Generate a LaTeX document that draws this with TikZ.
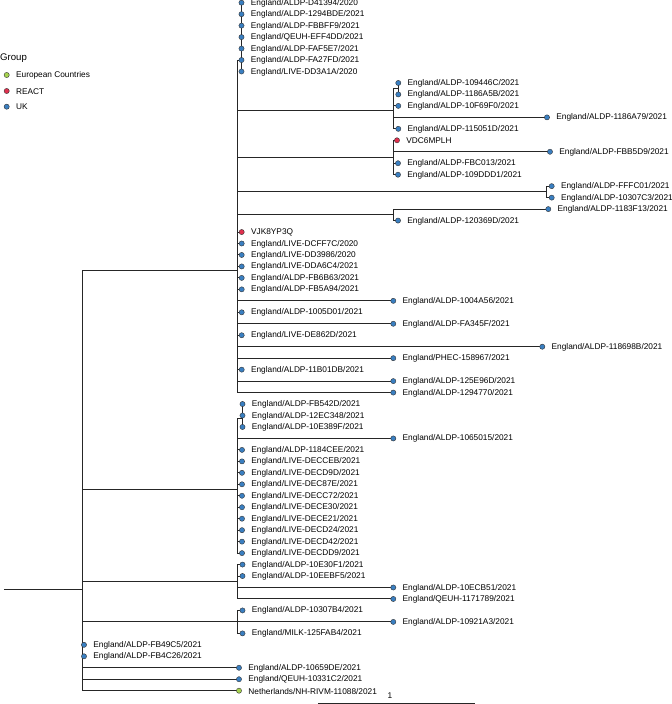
\documentclass[tikz,border=0pt]{standalone}
\usepackage{fontspec}
\setmainfont{Liberation Sans}
\usetikzlibrary{backgrounds}
\definecolor{ukblue}{HTML}{3A7FC1}
\definecolor{reactred}{HTML}{E0304E}
\definecolor{eugreen}{HTML}{A6D34F}
\begin{document}
\begin{tikzpicture}[x=1pt, y=-11.467pt,
        tip/.style={circle, draw=black!80, line width=0.4pt, inner sep=0pt, minimum size=5.2pt},
        uk/.style={tip, fill=ukblue},
        react/.style={tip, fill=reactred},
        eu/.style={tip, fill=eugreen},
        lab/.style={font=\fontsize{8.3}{10}\selectfont, inner sep=0pt, yshift=-0.4pt},
        label distance=6.4pt,
        branch/.style={line width=0.95pt, black!85}]

    \useasboundingbox (0,-0.2355) rectangle (672,61.16);

    % legend
    \node[font=\fontsize{9.6}{11}\selectfont, anchor=west, inner sep=0pt] (group) at (0,4.85) {Group};
    \node[eu, label distance=11.5pt, label={[lab]right:European Countries}] (keyeu) at (6.7,6.305) {};
    \node[react, label distance=11.5pt, label={[lab]right:REACT}] (keyreact) at (6.7,7.70) {};
    \node[uk, label distance=11.5pt, label={[lab]right:UK}] (keyuk) at (6.7,9.07) {};

    % internal nodes
    \coordinate (stem) at (4,51.15);
    \coordinate (root) at (82,51.15);
    \coordinate (U) at (237,23.39);
    \coordinate (T) at (241.5,5.016);
    \coordinate (C7) at (393.3,9.375);
    \coordinate (s78) at (398.3,7.5);
    \coordinate (C12) at (393.3,13.5);
    \coordinate (C16) at (546.7,16.5);
    \coordinate (C18) at (393.3,18.5);
    \coordinate (D) at (237,42.44);
    \coordinate (S35) at (242.5,36.25);
    \coordinate (C49) at (237,50.5);
    \coordinate (C53) at (237,54);

    % tips
    \node[uk, label={[lab]right:England/ALDP-D41394/2020}] (D41394) at (241.5,0) {};
    \node[uk, label={[lab]right:England/ALDP-1294BDE/2021}] (1294BDE) at (241.5,1) {};
    \node[uk, label={[lab]right:England/ALDP-FBBFF9/2021}] (FBBFF9) at (241.5,2) {};
    \node[uk, label={[lab]right:England/QEUH-EFF4DD/2021}] (EFF4DD) at (241.5,3) {};
    \node[uk, label={[lab]right:England/ALDP-FAF5E7/2021}] (FAF5E7) at (241.5,4) {};
    \node[uk, label={[lab]right:England/ALDP-FA27FD/2021}] (FA27FD) at (241.5,5) {};
    \node[uk, label={[lab]right:England/LIVE-DD3A1A/2020}] (DD3A1A) at (241.5,6) {};
    \node[uk, label={[lab]right:England/ALDP-109446C/2021}] (109446C) at (398.3,7) {};
    \node[uk, label={[lab]right:England/ALDP-1186A5B/2021}] (1186A5B) at (398.3,8) {};
    \node[uk, label={[lab]right:England/ALDP-10F69F0/2021}] (10F69F0) at (398.3,9) {};
    \node[uk, label={[lab]right:England/ALDP-1186A79/2021}] (1186A79) at (547,10) {};
    \node[uk, label={[lab]right:England/ALDP-115051D/2021}] (115051D) at (398.3,11) {};
    \node[react, label={[lab]right:VDC6MPLH}] (VDC6MPLH) at (397,12) {};
    \node[uk, label={[lab]right:England/ALDP-FBB5D9/2021}] (FBB5D9) at (550,13) {};
    \node[uk, label={[lab]right:England/ALDP-FBC013/2021}] (FBC013) at (398,14) {};
    \node[uk, label={[lab]right:England/ALDP-109DDD1/2021}] (109DDD1) at (398,15) {};
    \node[uk, label={[lab]right:England/ALDP-FFFC01/2021}] (FFFC01) at (551.7,16) {};
    \node[uk, label={[lab]right:England/ALDP-10307C3/2021}] (10307C3) at (551.7,17) {};
    \node[uk, label={[lab]right:England/ALDP-1183F13/2021}] (1183F13) at (548.3,18) {};
    \node[uk, label={[lab]right:England/ALDP-120369D/2021}] (120369D) at (398,19) {};
    \node[react, label={[lab]right:VJK8YP3Q}] (VJK8YP3Q) at (241.7,20) {};
    \node[uk, label={[lab]right:England/LIVE-DCFF7C/2020}] (DCFF7C) at (241.7,21) {};
    \node[uk, label={[lab]right:England/LIVE-DD3986/2020}] (DD3986) at (241.7,22) {};
    \node[uk, label={[lab]right:England/LIVE-DDA6C4/2021}] (DDA6C4) at (241.7,23) {};
    \node[uk, label={[lab]right:England/ALDP-FB6B63/2021}] (FB6B63) at (241.7,24) {};
    \node[uk, label={[lab]right:England/ALDP-FB5A94/2021}] (FB5A94) at (241.7,25) {};
    \node[uk, label={[lab]right:England/ALDP-1004A56/2021}] (1004A56) at (393.3,26) {};
    \node[uk, label={[lab]right:England/ALDP-1005D01/2021}] (1005D01) at (241.7,27) {};
    \node[uk, label={[lab]right:England/ALDP-FA345F/2021}] (FA345F) at (393.3,28) {};
    \node[uk, label={[lab]right:England/LIVE-DE862D/2021}] (DE862D) at (241.7,29) {};
    \node[uk, label={[lab]right:England/ALDP-118698B/2021}] (118698B) at (542.3,30) {};
    \node[uk, label={[lab]right:England/PHEC-158967/2021}] (158967) at (393.3,31) {};
    \node[uk, label={[lab]right:England/ALDP-11B01DB/2021}] (11B01DB) at (241.7,32) {};
    \node[uk, label={[lab]right:England/ALDP-125E96D/2021}] (125E96D) at (393.3,33) {};
    \node[uk, label={[lab]right:England/ALDP-1294770/2021}] (1294770) at (393.3,34) {};
    \node[uk, label={[lab]right:England/ALDP-FB542D/2021}] (FB542D) at (242.5,35) {};
    \node[uk, label={[lab]right:England/ALDP-12EC348/2021}] (12EC348) at (242.5,36) {};
    \node[uk, label={[lab]right:England/ALDP-10E389F/2021}] (10E389F) at (242.5,37) {};
    \node[uk, label={[lab]right:England/ALDP-1065015/2021}] (1065015) at (393.3,38) {};
    \node[uk, label={[lab]right:England/ALDP-1184CEE/2021}] (1184CEE) at (242,39) {};
    \node[uk, label={[lab]right:England/LIVE-DECCEB/2021}] (DECCEB) at (242,40) {};
    \node[uk, label={[lab]right:England/LIVE-DECD9D/2021}] (DECD9D) at (242,41) {};
    \node[uk, label={[lab]right:England/LIVE-DEC87E/2021}] (DEC87E) at (242,42) {};
    \node[uk, label={[lab]right:England/LIVE-DECC72/2021}] (DECC72) at (242,43) {};
    \node[uk, label={[lab]right:England/LIVE-DECE30/2021}] (DECE30) at (242,44) {};
    \node[uk, label={[lab]right:England/LIVE-DECE21/2021}] (DECE21) at (242,45) {};
    \node[uk, label={[lab]right:England/LIVE-DECD24/2021}] (DECD24) at (242,46) {};
    \node[uk, label={[lab]right:England/LIVE-DECD42/2021}] (DECD42) at (242,47) {};
    \node[uk, label={[lab]right:England/LIVE-DECDD9/2021}] (DECDD9) at (242,48) {};
    \node[uk, label={[lab]right:England/ALDP-10E30F1/2021}] (10E30F1) at (242.5,49) {};
    \node[uk, label={[lab]right:England/ALDP-10EEBF5/2021}] (10EEBF5) at (242.5,50) {};
    \node[uk, label={[lab]right:England/ALDP-10ECB51/2021}] (10ECB51) at (393.3,51) {};
    \node[uk, label={[lab]right:England/QEUH-1171789/2021}] (1171789) at (393.3,52) {};
    \node[uk, label={[lab]right:England/ALDP-10307B4/2021}] (10307B4) at (242.5,53) {};
    \node[uk, label={[lab]right:England/ALDP-10921A3/2021}] (10921A3) at (393.3,54) {};
    \node[uk, label={[lab]right:England/MILK-125FAB4/2021}] (125FAB4) at (242.5,55) {};
    \node[uk, label={[lab]right:England/ALDP-FB49C5/2021}] (FB49C5) at (84,56) {};
    \node[uk, label={[lab]right:England/ALDP-FB4C26/2021}] (FB4C26) at (84,57) {};
    \node[uk, label={[lab]right:England/ALDP-10659DE/2021}] (10659DE) at (239,58) {};
    \node[uk, label={[lab]right:England/QEUH-10331C2/2021}] (10331C2) at (239,59) {};
    \node[eu, label={[lab]right:Netherlands/NH-RIVM-11088/2021}] (NH11088) at (239,60) {};

    % branches, drawn under the tips
    \begin{scope}[on background layer]
        \draw[branch] (stem) -- (root);
        \draw[branch] (root) |- (U) (root) |- (D) (root) |- (C49) (root) |- (C53)
            (root) |- (FB49C5.center) (root) |- (FB4C26.center) (root) |- (10659DE.center)
            (root) |- (10331C2.center) (root) |- (NH11088.center);

        \draw[branch] (U) |- (T) (U) |- (C7) (U) |- (C12) (U) |- (C16) (U) |- (C18)
            (U) |- (VJK8YP3Q.center) (U) |- (DCFF7C.center) (U) |- (DD3986.center)
            (U) |- (DDA6C4.center) (U) |- (FB6B63.center) (U) |- (FB5A94.center)
            (U) |- (1004A56.center) (U) |- (1005D01.center) (U) |- (FA345F.center)
            (U) |- (DE862D.center) (U) |- (118698B.center) (U) |- (158967.center)
            (U) |- (11B01DB.center) (U) |- (125E96D.center) (U) |- (1294770.center);
        \draw[branch] (T) |- (D41394.center) (T) |- (DD3A1A.center);
        \draw[branch] (C7) |- (s78) (C7) |- (10F69F0.center) (C7) |- (1186A79.center)
            (C7) |- (115051D.center);
        \draw[branch] (s78) |- (109446C.center) (s78) |- (1186A5B.center);
        \draw[branch] (C12) |- (VDC6MPLH.center) (C12) |- (FBB5D9.center)
            (C12) |- (FBC013.center) (C12) |- (109DDD1.center);
        \draw[branch] (C16) |- (FFFC01.center) (C16) |- (10307C3.center);
        \draw[branch] (C18) |- (1183F13.center) (C18) |- (120369D.center);

        \draw[branch] (D) |- (S35) (D) |- (1065015.center) (D) |- (1184CEE.center)
            (D) |- (DECCEB.center) (D) |- (DECD9D.center) (D) |- (DEC87E.center)
            (D) |- (DECC72.center) (D) |- (DECE30.center) (D) |- (DECE21.center)
            (D) |- (DECD24.center) (D) |- (DECD42.center) (D) |- (DECDD9.center);
        \draw[branch] (S35) |- (FB542D.center) (S35) |- (10E389F.center);

        \draw[branch] (C49) |- (10E30F1.center) (C49) |- (10EEBF5.center)
            (C49) |- (10ECB51.center) (C49) |- (1171789.center);
        \draw[branch] (C53) |- (10307B4.center) (C53) |- (10921A3.center)
            (C53) |- (125FAB4.center);
    \end{scope}

    % scale bar
    \coordinate (bar0) at (318,61.07);
    \coordinate (bar1) at (475,61.07);
    \draw[branch] (bar0) -- (bar1);
    \node[lab] (barlabel) at (390,60.37) {1};
\end{tikzpicture}
\end{document}
